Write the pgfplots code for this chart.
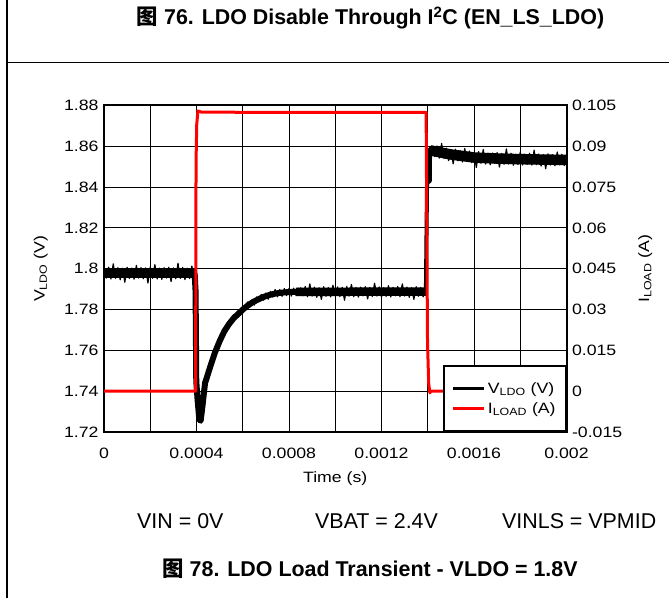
\documentclass[border=0pt]{standalone}
\usepackage{fontspec}
\setmainfont{Liberation Sans}
\newfontfamily\cjk{Noto Sans CJK SC}
\newfontfamily\chartfont[FakeStretch=1.18]{Liberation Sans}
\usepackage{pgfplots}
\pgfplotsset{compat=1.18}
\newcommand\cf{\chartfont\fontsize{15}{17}\selectfont}
\newcommand\bigf{\fontsize{21.4}{25}\selectfont}
\begin{document}
\begin{tikzpicture}
\useasboundingbox (0,0) rectangle (669pt,598pt);
\draw[line width=1.5pt] (7pt,0pt) -- (7pt,598pt);
\draw[line width=1.5pt] (7pt,535.5pt) -- (669pt,535.5pt);
\node[anchor=base, inner sep=0pt] at (370.5pt,573pt) {\bigf\bfseries{\cjk 图} 76. LDO Disable Through I\textsuperscript{2}C (EN\_LS\_LDO)};
\node[anchor=base west, inner sep=0pt] at (137pt,70pt) {\bigf VIN = 0V};
\node[anchor=base west, inner sep=0pt] at (315pt,70pt) {\bigf VBAT = 2.4V};
\node[anchor=base west, inner sep=0pt] at (502pt,70pt) {\bigf VINLS = VPMID};
\node[anchor=base, inner sep=0pt] at (370pt,22pt) {\bigf\bfseries{\cjk 图} 78. LDO Load Transient - VLDO = 1.8V};

\begin{axis}[
  at={(104pt,166pt)}, anchor=south west,
  width=462.5pt, height=326.5pt, scale only axis,
  xmin=0, xmax=0.002, ymin=1.72, ymax=1.88,
  xtick={0,0.0004,0.0008,0.0012,0.0016,0.002},
  xticklabels={0,0.0004,0.0008,0.0012,0.0016,0.002},
  minor xtick={0.0002,0.0006,0.001,0.0014,0.0018},
  ytick={1.72,1.74,1.76,1.78,1.8,1.82,1.84,1.86,1.88},
  yticklabels={1.72,1.74,1.76,1.78,1.8,1.82,1.84,1.86,1.88},
  scaled x ticks=false, scaled y ticks=false,
  grid=both,
  major grid style={black, line width=0.9pt},
  minor grid style={black, line width=0.9pt},
  major tick length=0pt, minor tick length=0pt,
  axis line style={line width=2pt},
  tick label style={font=\cf},
  xticklabel style={yshift=-12pt},
  yticklabel style={xshift=-2pt},
  xlabel={Time (s)}, ylabel={V\textsubscript{LDO} (V)},
  label style={font=\cf},
  xlabel style={at={(axis description cs:0.5,-0.142)}, anchor=center},
  ylabel style={at={(axis description cs:-0.137,0.5)}, anchor=center},
]
% mean trace, in pieces of different band width
\addplot[black, line width=10pt] coordinates {(0,1.7978) (0.000394,1.7978)};
\addplot[black, line width=6pt, line join=round] coordinates {
(0.000392,1.7978) (0.000396,1.789) (0.000399,1.745) (0.000404,1.7367)
(0.000412,1.7262) (0.000418,1.7255) (0.000424,1.731) (0.000437,1.7440)
(0.00044,1.7450) (0.00046,1.7522) (0.00048,1.7590) (0.00050,1.7645) (0.00052,1.7693)
(0.00054,1.7728) (0.00056,1.7757) (0.00058,1.7778) (0.00060,1.7800) (0.00062,1.7818)
(0.00064,1.7834) (0.00066,1.7846) (0.00068,1.7857) (0.00070,1.7866) (0.00072,1.7873)
(0.00074,1.7878) (0.00076,1.7882) (0.00078,1.7884) (0.00080,1.7886) (0.00084,1.7887)
};
\addplot[black, line width=8.5pt] coordinates {(0.00083,1.7887) (0.0010,1.7887) (0.0012,1.7888) (0.001394,1.7888)};
\addplot[black, line width=4pt, line join=round] coordinates {
(0.001392,1.7888) (0.001397,1.842) (0.001409,1.843) (0.001410,1.8588) (0.00142,1.8578)};
\addplot[black, line width=10.5pt, line join=round] coordinates {
(0.00141,1.8580) (0.00142,1.8578) (0.0015,1.8560) (0.0016,1.8545) (0.0017,1.8540)
(0.0018,1.8537) (0.002,1.8533)};
% noise, before the step
\addplot[black, line width=1.2pt, line join=round] coordinates {
(0,1.8004) (0.00001,1.7954) (0.00002,1.8008) (0.00003,1.7950) (0.00004,1.8024)
(0.00005,1.7953) (0.00006,1.8005) (0.00007,1.7946) (0.00008,1.8002) (0.00009,1.7934)
(0.00010,1.8007) (0.00011,1.7952) (0.00012,1.8003) (0.00013,1.7949) (0.00014,1.8016)
(0.00015,1.7954) (0.00016,1.8006) (0.00017,1.7951) (0.00018,1.8004) (0.00019,1.7930)
(0.00020,1.8009) (0.00021,1.7953) (0.00022,1.8020) (0.00023,1.7950) (0.00024,1.8003)
(0.00025,1.7948) (0.00026,1.8005) (0.00027,1.7954) (0.00028,1.8007) (0.00029,1.7937)
(0.00030,1.8004) (0.00031,1.7951) (0.00032,1.8027) (0.00033,1.7953) (0.00034,1.8006)
(0.00035,1.7947) (0.00036,1.8002) (0.00037,1.7952) (0.00038,1.8013) (0.00039,1.7949)
};
% noise, recovery
\addplot[black, line width=1.2pt, line join=round] coordinates {
(0.00044,1.7464) (0.00045,1.7472) (0.00046,1.7534) (0.00047,1.7540) (0.00048,1.7605)
(0.00049,1.7605) (0.00050,1.7662) (0.00051,1.7655) (0.00052,1.7706) (0.00053,1.7695)
(0.00054,1.7743) (0.00055,1.7731) (0.00056,1.7775) (0.00057,1.7753) (0.00058,1.7792)
(0.00059,1.7772) (0.00060,1.7815) (0.00061,1.7796) (0.00062,1.7837) (0.00063,1.7811)
(0.00064,1.7848) (0.00065,1.7822) (0.00066,1.7862) (0.00067,1.7838) (0.00068,1.7874)
(0.00069,1.7846) (0.00070,1.7881) (0.00071,1.7851) (0.00072,1.7889) (0.00073,1.7861)
(0.00074,1.7898) (0.00075,1.7863) (0.00076,1.7898) (0.00077,1.7865) (0.00078,1.7903)
(0.00079,1.7869) (0.00080,1.7903) (0.00081,1.7866) (0.00082,1.7905) (0.00083,1.7870)
(0.00084,1.7907)
};
% noise, loaded level
\addplot[black, line width=1.2pt, line join=round] coordinates {
(0.00085,1.7909) (0.00086,1.7867) (0.00087,1.7913) (0.00088,1.7863) (0.00089,1.7926)
(0.00090,1.7866) (0.00091,1.7910) (0.00092,1.7860) (0.00093,1.7907) (0.00094,1.7850)
(0.00095,1.7912) (0.00096,1.7865) (0.00097,1.7908) (0.00098,1.7862) (0.00099,1.7919)
(0.00100,1.7867) (0.00101,1.7911) (0.00102,1.7864) (0.00103,1.7909) (0.00104,1.7846)
(0.00105,1.7913) (0.00106,1.7866) (0.00107,1.7923) (0.00108,1.7863) (0.00109,1.7908)
(0.00110,1.7861) (0.00111,1.7910) (0.00112,1.7867) (0.00113,1.7912) (0.00114,1.7852)
(0.00115,1.7909) (0.00116,1.7864) (0.00117,1.7929) (0.00118,1.7866) (0.00119,1.7911)
(0.00120,1.7861) (0.00121,1.7907) (0.00122,1.7865) (0.00123,1.7917) (0.00124,1.7862)
(0.00125,1.7909) (0.00126,1.7867) (0.00127,1.7913) (0.00128,1.7863) (0.00129,1.7926)
(0.00130,1.7866) (0.00131,1.7910) (0.00132,1.7860) (0.00133,1.7907) (0.00134,1.7850)
(0.00135,1.7912) (0.00136,1.7865) (0.00137,1.7908) (0.00138,1.7862) (0.00139,1.7919)
};
% noise, after the load release
\addplot[black, line width=1.2pt, line join=round] coordinates {
(0.00142,1.8602) (0.00143,1.8550) (0.00144,1.8602) (0.00145,1.8542) (0.00146,1.8614)
(0.00147,1.8541) (0.00148,1.8591) (0.00149,1.8530) (0.00150,1.8584) (0.00151,1.8514)
(0.00152,1.8586) (0.00153,1.8529) (0.00154,1.8579) (0.00155,1.8523) (0.00156,1.8589)
(0.00157,1.8526) (0.00158,1.8577) (0.00159,1.8520) (0.00160,1.8571) (0.00161,1.8496)
(0.00162,1.8574) (0.00163,1.8517) (0.00164,1.8584) (0.00165,1.8513) (0.00166,1.8566)
(0.00167,1.8510) (0.00168,1.8567) (0.00169,1.8516) (0.00170,1.8569) (0.00171,1.8498)
(0.00172,1.8565) (0.00173,1.8512) (0.00174,1.8587) (0.00175,1.8513) (0.00176,1.8566)
(0.00177,1.8507) (0.00178,1.8561) (0.00179,1.8511) (0.00180,1.8572) (0.00181,1.8508)
(0.00182,1.8562) (0.00183,1.8512) (0.00184,1.8566) (0.00185,1.8508) (0.00186,1.8581)
(0.00187,1.8510) (0.00188,1.8562) (0.00189,1.8503) (0.00190,1.8559) (0.00191,1.8490)
(0.00192,1.8563) (0.00193,1.8508) (0.00194,1.8559) (0.00195,1.8505) (0.00196,1.8572)
(0.00197,1.8509) (0.00198,1.8561) (0.00199,1.8506) (0.00200,1.8559)
};
\end{axis}

\begin{axis}[
  at={(104pt,166pt)}, anchor=south west,
  width=462.5pt, height=326.5pt, scale only axis,
  xmin=0, xmax=0.002, ymin=-0.015, ymax=0.105,
  axis x line=none, axis y line*=right,
  ytick={-0.015,0,0.015,0.03,0.045,0.06,0.075,0.09,0.105},
  yticklabels={-0.015,0,0.015,0.03,0.045,0.06,0.075,0.09,0.105},
  scaled y ticks=false,
  major tick length=0pt,
  axis line style={line width=2pt},
  tick label style={font=\cf},
  yticklabel style={xshift=2pt},
  ylabel={I\textsubscript{LOAD} (A)},
  ylabel style={font=\cf, at={(axis description cs:1.17,0.5)}, anchor=center},
  legend cell align=left,
  legend image code/.code={\draw[#1] (0pt,0pt) -- (31pt,0pt);},
  legend style={at={(1,0)}, anchor=south east, draw=black, line width=1.8pt,
    fill=white, font=\cf, inner xsep=8pt, inner ysep=14pt, row sep=4pt},
]
\addlegendimage{black, line width=3pt}
\addlegendentry{V\textsubscript{LDO} (V)}
\addplot[red, line width=3pt, line join=round] coordinates {
(0,0) (0.000396,0) (0.000398,0.084) (0.000401,0.098) (0.000406,0.1030)
(0.000420,0.1026) (0.0006,0.1025) (0.0009,0.1025) (0.0012,0.1025)
(0.001393,0.1025) (0.001395,0.0716) (0.001399,0.018) (0.001404,0.003)
(0.001409,-0.0006) (0.001414,0) (0.002,0)
};
\addlegendentry{I\textsubscript{LOAD} (A)}
\end{axis}
\end{tikzpicture}
\end{document}
